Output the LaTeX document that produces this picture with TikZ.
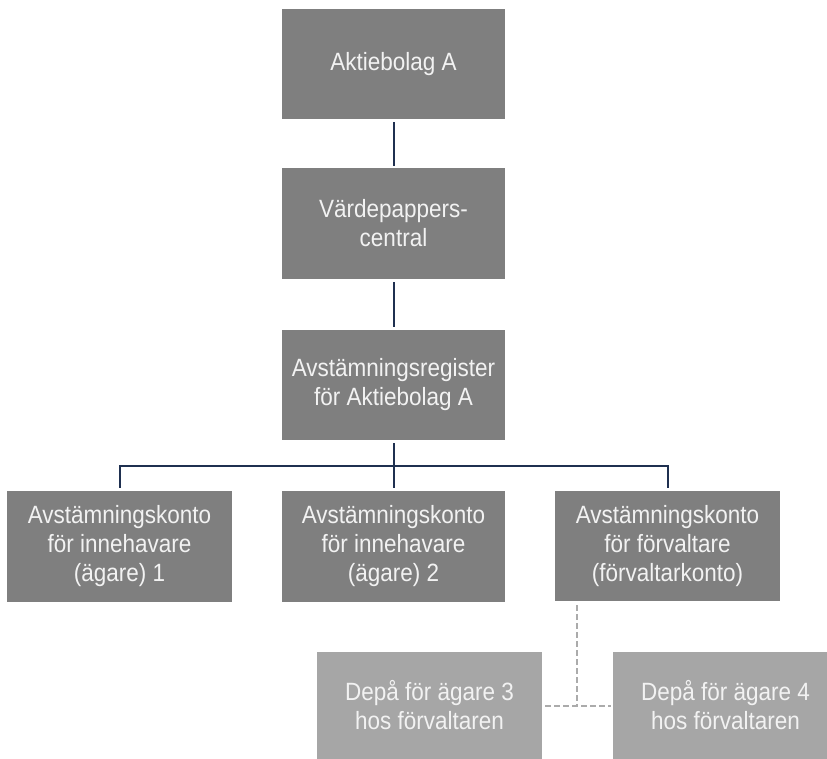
\documentclass[tikz,border=0pt]{standalone}
\usepackage{fontspec}
\setmainfont{Liberation Sans}[FakeStretch=0.9]
\definecolor{boxdark}{HTML}{7F7F7F}
\definecolor{boxlight}{HTML}{A6A6A6}
\definecolor{linknavy}{HTML}{1F3050}
\definecolor{linkgray}{HTML}{ABABAB}
\definecolor{boxtext}{HTML}{F2F2F2}
\tikzset{
  darkbox/.style={fill=boxdark, text=boxtext, minimum width=223pt, minimum height=110pt,
    inner sep=0pt, align=center, font=\fontsize{25}{29}\selectfont},
  lightbox/.style={darkbox, fill=boxlight, minimum width=225pt, minimum height=107pt},
  link/.style={draw=linknavy, line width=2pt, line join=miter},
  dashlink/.style={draw=linkgray, line width=2pt, dash pattern=on 6pt off 3pt},
}
\begin{document}
\begin{tikzpicture}[x=1pt, y=-1pt]
  \useasboundingbox (0,0) rectangle (827,759);
  \begin{scope}
    \clip (0,0) rectangle (827,759);
    % upper chain
    \node[darkbox] (ab)  at (393.5,64)   {Aktiebolag A};
    \node[darkbox, minimum height=111pt] (vpc) at (393.5,223.5) {Värdepappers-\\central};
    \node[darkbox] (reg) at (393.5,385)  {Avstämningsregister\\för Aktiebolag A};
    % accounts
    \node[darkbox, minimum width=225pt, minimum height=111pt] (k1) at (119.5,546.5) {Avstämningskonto\\för innehavare\\(ägare) 1};
    \node[darkbox, minimum height=111pt] (k2) at (393.5,546.5) {Avstämningskonto\\för innehavare\\(ägare) 2};
    \node[darkbox, minimum width=225pt, minimum height=110pt] (k3) at (667.5,546) {Avstämningskonto\\för förvaltare\\(förvaltarkonto)};
    % custody accounts
    \node[lightbox] (d3) at (429.5,705.5) {Depå för ägare 3\\hos förvaltaren};
    \node[lightbox] (d4) at (725.5,705.5) {Depå för ägare 4\\hos förvaltaren};
    % navy connectors
    \draw[link, shorten <=3pt, shorten >=2pt] (ab.south) -- (vpc.north);
    \draw[link, shorten <=3pt, shorten >=3pt] (vpc.south) -- (reg.north);
    \draw[link, shorten <=3pt, shorten >=3pt] (reg.south) -- (k2.north);
    \draw[link, shorten <=3pt, shorten >=3pt] (k1.north) -- ++(0,-25) -| (k3.north);
    % dashed nominee links
    \coordinate (split) at ([xshift=22pt]k3.south west);
    \draw[dashlink, shorten <=4pt] (split) -- (split |- d3.east);
    \draw[dashlink, shorten <=3pt, shorten >=2pt] (d3.east) -- (d4.west);
  \end{scope}
\end{tikzpicture}
\end{document}
